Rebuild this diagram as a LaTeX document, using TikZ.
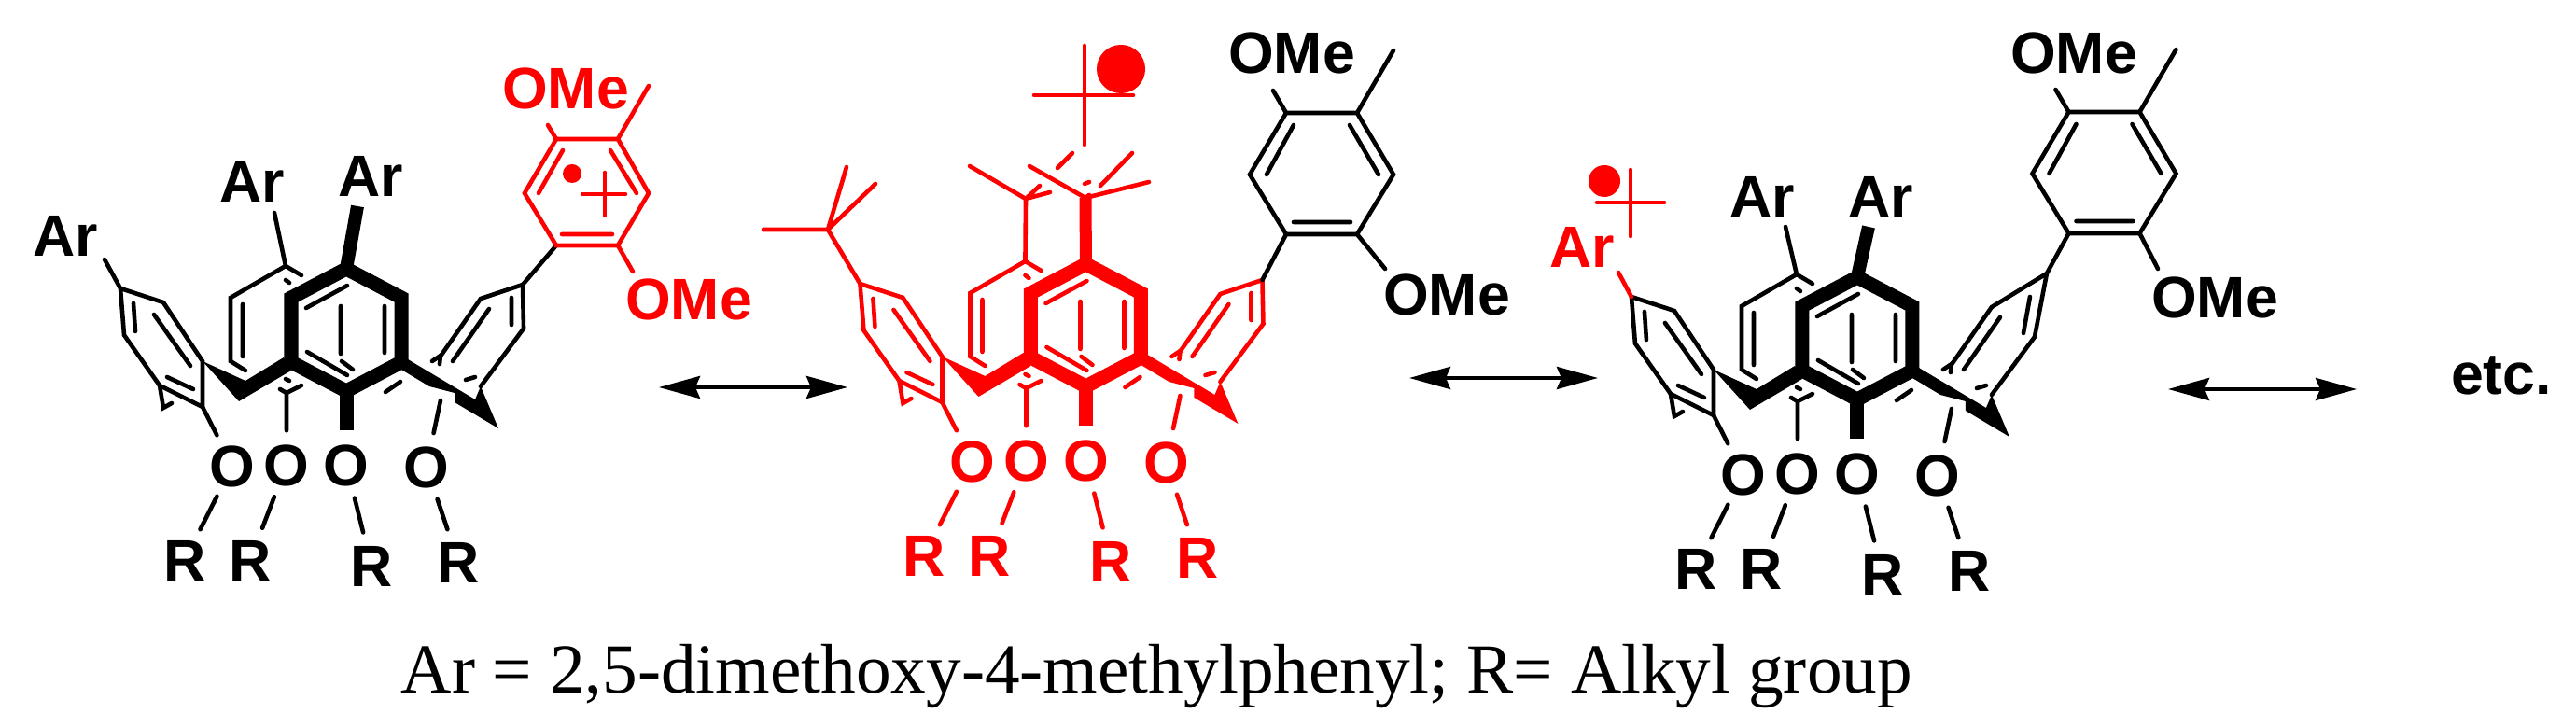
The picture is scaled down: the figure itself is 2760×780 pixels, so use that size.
\documentclass[tikz,border=0pt]{standalone}
\usepackage{xcolor}
\usepackage{fontspec}
\setmainfont{Liberation Serif}
\setsansfont{Liberation Sans}
\usetikzlibrary{arrows.meta}

\tikzset{
  bond/.style={line width=0.046cm, line cap=round, line join=miter},
  boldbond/.style={line width=0.15cm, line join=miter},
  atom/.style={circle, minimum size=0.72cm, inner sep=0pt, text height=0.45cm, text depth=0pt,
    font=\sffamily\bfseries\fontsize{17.8}{18}\selectfont},
  grouplabel/.style={anchor=base, inner sep=0pt, font=\sffamily\bfseries\fontsize{17.8}{18}\selectfont},
  updown/.style={line width=0.04cm,
    {Stealth[length=0.44cm,width=0.24cm,inset=0.05cm]}-{Stealth[length=0.44cm,width=0.24cm,inset=0.05cm]}}
}

% the calixarene, #1 = top of the right ring, #2 and #3 = its short inner line
\newcommand{\calixcore}[3]{
  \coordinate (atop) at (129,309);
  \coordinate (btop) at (306,285);
  \coordinate (dtop) at #1;
  \coordinate (hextop) at (371,288);
  \coordinate (hexbot) at (371,419);
  \coordinate (afoot) at (217,436);
  \coordinate (bfoot) at (307,421);
  \coordinate (dfoot) at (472,429);
  % left ring
  \draw[bond] (atop)--(175,324)--(217,387)--(afoot)--(171,413)--(133,359)--cycle;
  \draw[bond] (143,325)--(145,355) (165,337)--(204,392) (179,404)--(207,417);
  \draw[bond] (171,413)--(175,437)--(184,432);
  % ring behind
  \draw[bond] (323,295)--(btop)--(247,319)--(247,387)--(263,397);
  \draw[bond] (260,326)--(260,382) (306,300)--(310,303) (306,406)--(310,408);
  \draw[bond] (300,417)--(bfoot)--(323,413);
  % right ring
  \draw[bond] (dtop)--(515,320)--(471,383) (dtop)--(561,352)--(515,414);
  \draw[bond] #2--#3 (524,331)--(485,387) (499,407)--(509,404);
  \draw[bond] (463,387)--(472,381)--(471,390);
  % front ring and methylene bridges
  \fill (217,387)--(263,408)--(304,383)--(312,397)--(256,430)--cycle;
  \fill (437,385)--(509,428)--(515,414)--(534,459)--(487,431)--(487,421)--(460,414)--(430,396)--cycle;
  \draw[boldbond] (hextop)--(430,319)--(430,388)--(hexbot)--(312,388)--(312,319)--cycle;
  \draw[bond] (328,330)--(372,306) (365,328)--(365,379) (412,328)--(412,378);
  \draw[bond] (329,377)--(372,402) (366,387)--(378,396) (413,420)--(429,409);
  % oxygens
  \node[atom] (o1) at (249,499) {O};
  \node[atom] (o2) at (307,498) {O};
  \node[atom] (o3) at (371,498) {O};
  \node[atom] (o4) at (457,500) {O};
  \node[atom] (r1) at (198,600) {R};
  \node[atom] (r2) at (268,600) {R};
  \node[atom] (r3) at (398,606) {R};
  \node[atom] (r4) at (491,602) {R};
  \draw[bond] (afoot)--(o1) (bfoot)--(o2) (dfoot)--(o4);
  \draw[line width=0.15cm] (hexbot)--(o3);
  \foreach \i in {1,2,3,4} {\draw[bond] (o\i)--(r\i);}
}

% the black aryl group, placed for the middle molecule
\newcommand{\blackaryl}{
  \coordinate (arylbot) at (1378,251);
  \coordinate (arylome) at (1454,251);
  \coordinate (arylup) at (1364,97);
  \draw[bond] (1378,121)--(1454,121)--(1493,187)--(arylome)--(arylbot)--(1339,187)--cycle;
  \draw[bond] (1386,134)--(1357,187) (1446,134)--(1477,187) (1386,238)--(1447,238);
  \draw[bond] (1378,121)--(arylup) (1454,121)--(1493,54);
}

\begin{document}
\begin{tikzpicture}[x=0.01cm,y=-0.01cm]
\useasboundingbox (0,0) rectangle (2760,780);

% left molecule
\begin{scope}[name prefix=left-]
\calixcore{(560,305)}{(548,319)}{(548,348)}
\end{scope}
\node[grouplabel] (arone) at (70,275) {Ar};
\node[grouplabel] (artwo) at (270,217) {Ar};
\node[grouplabel] (arthree) at (397,211) {Ar};
\coordinate (arone-end) at (112,278);
\coordinate (artwo-end) at (294,228);
\coordinate (arthree-end) at (383,221);
\draw[bond] (left-atop)--(arone-end) (left-btop)--(artwo-end);
\draw[line width=0.14cm] (left-hextop)--(arthree-end);
\coordinate (ringred) at (596,263);
\draw[bond] (left-dtop)--(ringred);

\begin{scope}[red]
\draw[bond] (596,149)--(662,149)--(695,207)--(662,263)--(ringred)--(562,207)--cycle;
\draw[bond] (603,161)--(577,207) (654,161)--(682,207) (602,251)--(656,251);
\draw[bond] (587,134)--(596,149) (662,149)--(695,92) (662,263)--(678,291);
\node[grouplabel] (omeredtop) at (606,117) {OMe};
\node[grouplabel] (omeredbot) at (738,343) {OMe};
\fill (613,186) circle (0.10cm);
\draw[bond] (624,208)--(670,208) (648,185)--(648,231);
\end{scope}

\coordinate (arrowa) at (706,415);
\coordinate (arrowb) at (908,415);
\draw[updown] (arrowa)--(arrowb);

% middle molecule
\begin{scope}[red]
\begin{scope}[xshift=7.92cm,yshift=0.05cm,name prefix=mid-]
\calixcore{(560,305)}{(548,319)}{(548,348)}
\end{scope}
\draw[bond] (mid-atop)--(887,246)--(818,246) (887,246)--(907,179) (887,246)--(938,197);
\draw[bond] (mid-btop)--(1099,213)--(1039,178) (1099,213)--(1114,199) (1099,213)--(1125,206);
\coordinate (butyl) at (1163,212);
\draw[line width=0.13cm] (mid-hextop)--(butyl);
\draw[bond] (1103,178)--(butyl)--(1231,195) (butyl)--(1167,209);
\draw[bond] (1179,199)--(1213,164) (1162,197)--(1167,195) (1133,180)--(1149,164);
\draw[bond] (1162,155)--(1162,49) (1108,102)--(1214,102);
\fill (1201,74) circle (0.26cm);
\end{scope}

\blackaryl
\draw[bond] (arylbot)--(mid-dtop);
\coordinate (omeend) at (1484,288);
\draw[bond] (arylome)--(omeend);
\node[grouplabel] (omemidtop) at (1384,79) {OMe};
\node[grouplabel] (omemidbot) at (1550,338) {OMe};

\coordinate (arrowc) at (1510,405);
\coordinate (arrowd) at (1712,405);
\draw[updown] (arrowc)--(arrowd);

% right molecule
\begin{scope}[xshift=16.18cm,yshift=-0.09cm,name prefix=right-]
\calixcore{(574,284)}{(556,309)}{(549,348)}
\end{scope}
\node[grouplabel] (arfour) at (1888,233) {Ar};
\node[grouplabel] (arfive) at (2015,233) {Ar};
\coordinate (arfour-end) at (1913,243);
\coordinate (arfive-end) at (2002,243);
\draw[bond] (right-btop)--(arfour-end);
\draw[line width=0.14cm] (right-hextop)--(arfive-end);
\begin{scope}[red]
\node[grouplabel] (arred) at (1695,287) {Ar};
\coordinate (arred-end) at (1734,292);
\draw[bond] (right-atop)--(arred-end);
\fill (1719,194) circle (0.17cm);
\draw[bond] (1747,182)--(1747,253) (1711,217)--(1783,217);
\end{scope}

\begin{scope}[xshift=8.38cm,yshift=0.01cm,name prefix=far-]
\blackaryl
\end{scope}
\draw[bond] (far-arylbot)--(right-dtop);
\coordinate (omefar) at (2312,288);
\draw[bond] (far-arylome)--(omefar);
\node[grouplabel] (omefartop) at (2222,79) {OMe};
\node[grouplabel] (omefarbot) at (2373,341) {OMe};

\coordinate (arrowe) at (2323,417);
\coordinate (arrowf) at (2525,417);
\draw[updown] (arrowe)--(arrowf);
\node[grouplabel] (etc) at (2680,423) {etc.};

\node[anchor=base west, inner sep=0pt, font=\fontsize{21.4}{24}\selectfont] (legend) at (429,743)
  {Ar = 2,5-dimethoxy-4-methylphenyl; R= Alkyl group};
\end{tikzpicture}
\end{document}
